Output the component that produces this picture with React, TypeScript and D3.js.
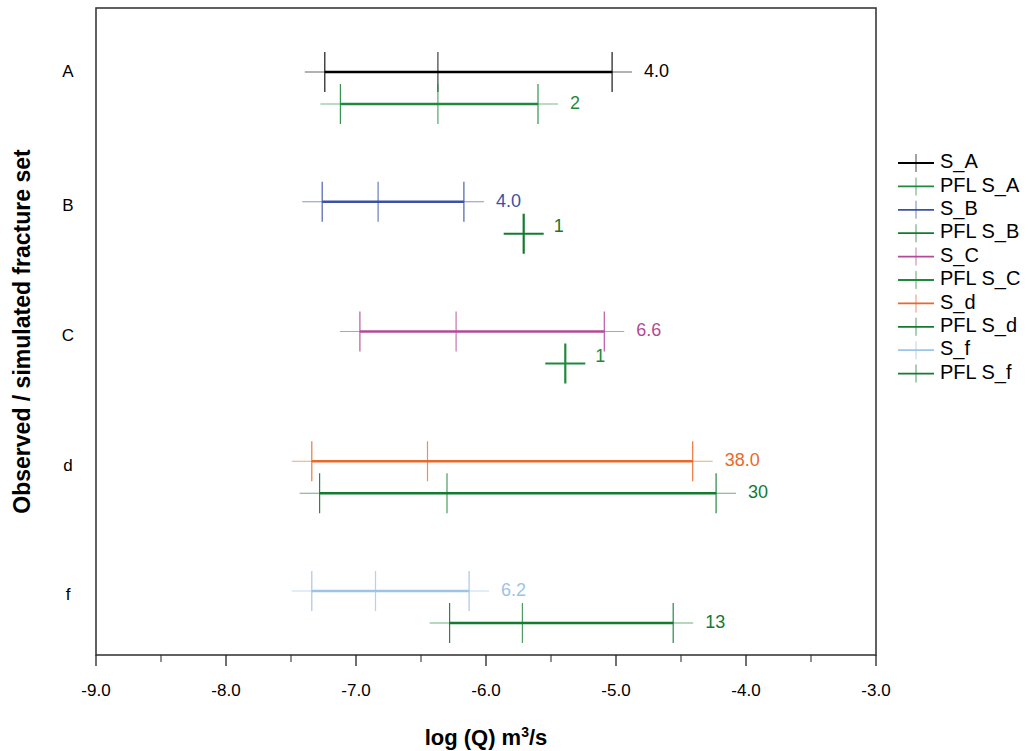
import React from "react";
import * as d3 from "d3";

const categories = ["A", "B", "C", "d", "f"];
const seriesNames = ["S_A", "PFL S_A", "S_B", "PFL S_B", "S_C", "PFL S_C", "S_d", "PFL S_d", "S_f", "PFL S_f"];
const seriesCategory = [0, 0, 1, 1, 2, 2, 3, 3, 4, 4];
const seriesIsPFL = [false, true, false, true, false, true, false, true, false, true];
const minValues = [-7.24, -7.12, -7.26, -5.71, -6.97, -5.39, -7.34, -7.28, -7.34, -6.28];
const medianValues = [-6.37, -6.37, -6.83, -5.71, -6.23, -5.39, -6.45, -6.3, -6.85, -5.72];
const maxValues = [-5.03, -5.6, -6.17, -5.71, -5.09, -5.39, -4.41, -4.23, -6.13, -4.56];
const countLabels = ["4.0", "2", "4.0", "1", "6.6", "1", "38.0", "30", "6.2", "13"];
const seriesColors = ["#000000", "#1f8a3c", "#3a52a3", "#137a30", "#b34a98", "#1f8a3c", "#e8692b", "#137a30", "#9dc3e6", "#137a30"];
const xTicks = [-9, -8, -7, -6, -5, -4, -3];
const xMinorTicks = [-8.5, -7.5, -6.5, -5.5, -4.5, -3.5];

const W = 1033;
const H = 751;
const left = 96, right = 876, top = 8, bottom = 655;

export default function App() {
  const x = d3.scaleLinear().domain([-9, -3]).range([left, right]);
  const y = d3.scaleLinear().domain([0, 4]).range([72, 591]);
  const pflOffset = 0.2466;
  const font = "Liberation Sans, Arial, sans-serif";
  const half = 20;

  return (
    <svg width={W} height={H} style={{ position: "absolute", left: 0, top: 0 }} fontFamily={font}>
      <rect x={0} y={0} width={W} height={H} fill="#fff" />
      {/* frame */}
      <rect x={left} y={top} width={right - left} height={bottom - top} fill="none" stroke="#3a3a3a" strokeWidth={1.6} />
      {/* x ticks */}
      {xTicks.map((t) => (
        <g key={"t" + t}>
          <line x1={x(t)} x2={x(t)} y1={bottom} y2={bottom + 11} stroke="#222" strokeWidth={1.3} />
          <text x={x(t)} y={bottom + 41} textAnchor="middle" fontSize={17} fill="#000">
            {t.toFixed(1)}
          </text>
        </g>
      ))}
      {xMinorTicks.map((t) => (
        <line key={"m" + t} x1={x(t)} x2={x(t)} y1={bottom} y2={bottom + 7} stroke="#222" strokeWidth={1} />
      ))}
      <text x={(left + right) / 2} y={745} textAnchor="middle" fontSize={22} fontWeight="bold">
        log (Q) m<tspan fontSize={14} dy={-8}>3</tspan><tspan dy={8}>/s</tspan>
      </text>
      <text
        transform={`translate(30,${(top + bottom) / 2}) rotate(-90)`}
        textAnchor="middle"
        fontSize={23}
        fontWeight="bold"
      >
        Observed / simulated fracture set
      </text>
      {categories.map((c, i) => (
        <text key={c} x={68} y={y(i) + (i === 0 ? 1 : 5)} textAnchor="middle" dominantBaseline="middle" fontSize={17}>
          {c}
        </text>
      ))}
      {/* series */}
      {seriesNames.map((s, i) => {
        const yy = y(seriesCategory[i] + (seriesIsPFL[i] ? pflOffset : 0));
        const col = seriesColors[i];
        const mn = x(minValues[i]);
        const md = x(medianValues[i]);
        const mx = x(maxValues[i]);
        const single = minValues[i] === maxValues[i];
        return (
          <g key={s}>
            {single ? (
              <g stroke={col} strokeWidth={2.2}>
                <line x1={md - half} x2={md + half} y1={yy} y2={yy} />
                <line x1={md} x2={md} y1={yy - half} y2={yy + half} />
              </g>
            ) : (
              <g>
                <line x1={mn - half} x2={mx + half} y1={yy} y2={yy} stroke={col} strokeWidth={1.2} opacity={0.6} />
                <line x1={mn} x2={mx} y1={yy} y2={yy} stroke={col} strokeWidth={2.4} />
                {[mn, md, mx].map((p, k) => (
                  <line key={k} x1={p} x2={p} y1={yy - half} y2={yy + half} stroke={col} strokeWidth={1.2} opacity={k === 1 ? 0.75 : 0.9} />
                ))}
              </g>
            )}
            <text x={mx + (single ? 30 : 32)} y={yy} dominantBaseline="middle" fontSize={18} fill={col} dy={single ? -6 : 0}>
              {countLabels[i]}
            </text>
          </g>
        );
      })}
      {/* legend */}
      {seriesNames.map((s, i) => {
        const ly = 163 + i * 23.4;
        const col = seriesColors[i];
        return (
          <g key={"l" + s}>
            <line x1={898} x2={934} y1={ly} y2={ly} stroke={col} strokeWidth={1.8} />
            <line x1={916} x2={916} y1={ly - 9} y2={ly + 9} stroke={col} strokeWidth={1.2} opacity={0.6} />
            <text x={940} y={ly} dominantBaseline="middle" fontSize={20}>
              {s}
            </text>
          </g>
        );
      })}
    </svg>
  );
}
